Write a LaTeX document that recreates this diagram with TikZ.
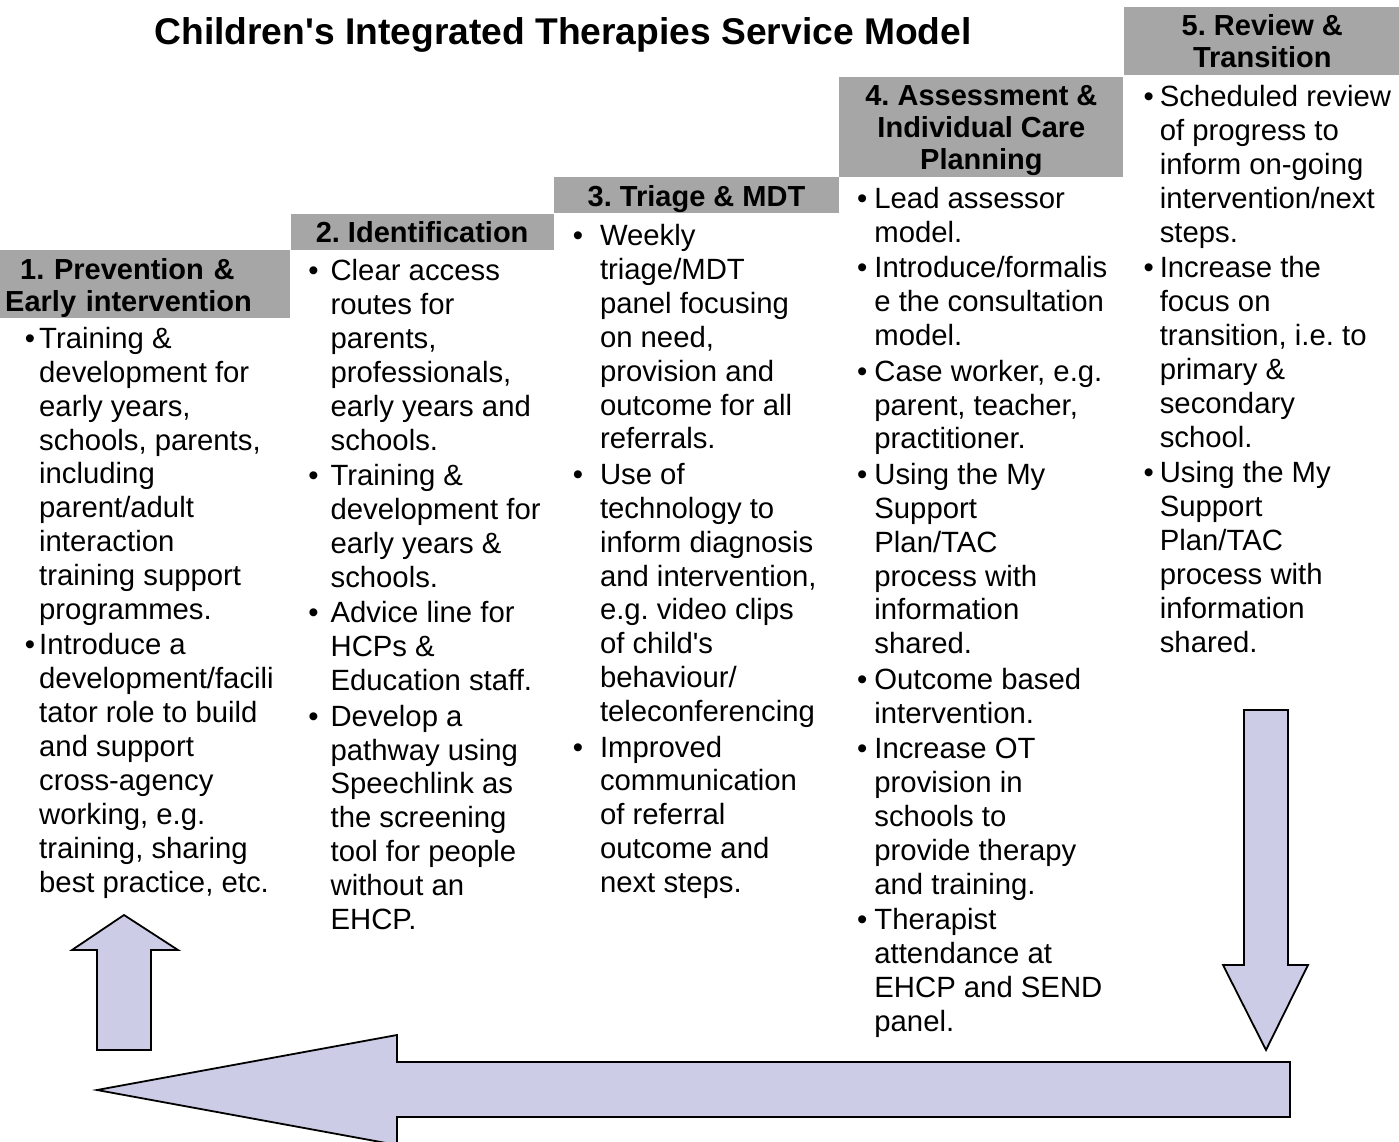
\documentclass[tikz,border=0pt]{standalone}
\usepackage{fontspec}
\setmainfont{Liberation Sans}[Ligatures=TeXOff]
\usetikzlibrary{positioning}

\definecolor{hdrgray}{RGB}{166,166,166}
\definecolor{arrowfill}{RGB}{204,204,230}
\newcommand{\itm}[1][7pt]{\strut\llap{\textbullet\hspace{#1}}}
\newcommand{\htop}{\rule{0pt}{29pt}}
\newcommand{\hbot}{\rule[-7pt]{0pt}{7pt}}
\frenchspacing

\begin{document}
\begin{tikzpicture}[x=1pt, y=-1pt]
% -------------------- Styles --------------------
\tikzset{
  hdr/.style={
    fill=hdrgray, inner sep=0pt, align=center,
    font=\fontsize{29}{32}\selectfont\bfseries
  },
  items/.style={
    inner sep=0pt, align=left, anchor=north west,
    font=\fontsize{29.3}{33.9}\selectfont
  },
  blockarrow/.style={draw=black, line width=1.8pt, fill=arrowfill, line join=miter},
  title/.style={font=\fontsize{37.2}{42}\selectfont\bfseries, inner sep=0pt, anchor=base}
}
\useasboundingbox (0,0) rectangle (1399,1142);

\node[title] (title) at (563,45) {Children's Integrated Therapies Service Model};

% -------------------- Stage headers (staircase) --------------------
\node[hdr, text width=280pt, align=left, minimum width=290pt, anchor=north west] (h1) at (0,250)
  {\htop\hspace*{15pt}1. Prevention \&\\Early intervention\hbot};
\node[hdr, minimum width=263pt, above right=0pt and 0pt of h1] (h2) {\htop 2. Identification\hbot};
\node[hdr, minimum width=285pt, above right=0pt and 0pt of h2] (h3) {\htop 3. Triage \& MDT\hbot};
\node[hdr, minimum width=284pt, above right=0pt and 0pt of h3] (h4)
  {\htop 4. Assessment \&\\Individual Care\\Planning\hbot};
\node[hdr, minimum width=277pt, above right=2pt and 0pt of h4] (h5)
  {\htop 5. Review \&\\Transition\hbot};

% -------------------- Bullet lists --------------------
\node[items, below right=6pt and 39pt of h1.south west] (c1) {%
\itm[4pt]Training \&\\
development for\\
early years,\\
schools, parents,\\
including\\
parent/adult\\
interaction\\
training support\\
programmes.\\[1.5pt]
\itm[4pt]Introduce a\\
development/facili\\
tator role to build\\
and support\\
cross-agency\\
working, e.g.\\
training, sharing\\
best practice, etc.};

\node[items, below right=7pt and 40pt of h2.south west] (c2) {%
\itm[12pt]Clear access\\
routes for\\
parents,\\
professionals,\\
early years and\\
schools.\\[1.5pt]
\itm[12pt]Training \&\\
development for\\
early years \&\\
schools.\\[1.5pt]
\itm[12pt]Advice line for\\
HCPs \&\\
Education staff.\\[1.5pt]
\itm[12pt]Develop a\\
pathway using\\
Speechlink as\\
the screening\\
tool for people\\
without an\\
EHCP.};

\node[items, below right=8pt and 46pt of h3.south west] (c3) {%
\itm[17pt]Weekly\\
triage/MDT\\
panel focusing\\
on need,\\
provision and\\
outcome for all\\
referrals.\\[1.5pt]
\itm[17pt]Use of\\
technology to\\
inform diagnosis\\
and intervention,\\
e.g. video clips\\
of child's\\
behaviour/\\
teleconferencing\\[1.5pt]
\itm[17pt]Improved\\
communication\\
of referral\\
outcome and\\
next steps.};

\node[items, below right=7.5pt and 35pt of h4.south west] (c4) {%
\itm Lead assessor\\
model.\\[1.5pt]
\itm Introduce/formalis\\
e the consultation\\
model.\\[1.5pt]
\itm Case worker, e.g.\\
parent, teacher,\\
practitioner.\\[1.5pt]
\itm Using the My\\
Support\\
Plan/TAC\\
process with\\
information\\
shared.\\[1.5pt]
\itm Outcome based\\
intervention.\\[1.5pt]
\itm Increase OT\\
provision in\\
schools to\\
provide therapy\\
and training.\\[1.5pt]
\itm Therapist\\
attendance at\\
EHCP and SEND\\
panel.};

\node[items, below right=8pt and 36pt of h5.south west] (c5) {%
\itm[6pt]Scheduled review\\
of progress to\\
inform on-going\\
intervention/next\\
steps.\\[1.5pt]
\itm[6pt]Increase the\\
focus on\\
transition, i.e. to\\
primary \&\\
secondary\\
school.\\[1.5pt]
\itm[6pt]Using the My\\
Support\\
Plan/TAC\\
process with\\
information\\
shared.};

% -------------------- Cycle arrows --------------------
% up into stage 1
\draw[blockarrow] (124,915) -- (178,950) -- (151,950) -- (151,1050)
  -- (97,1050) -- (97,950) -- (72,950) -- cycle;
% down out of stage 5
\draw[blockarrow] (1244,710) -- (1288,710) -- (1288,965) -- (1308,965)
  -- (1266,1050) -- (1223,965) -- (1244,965) -- cycle;
% return along the bottom
\draw[blockarrow] (1290,1062) -- (397,1062) -- (397,1035) -- (97,1090)
  -- (397,1145) -- (397,1117) -- (1290,1117) -- cycle;

\end{tikzpicture}
\end{document}
